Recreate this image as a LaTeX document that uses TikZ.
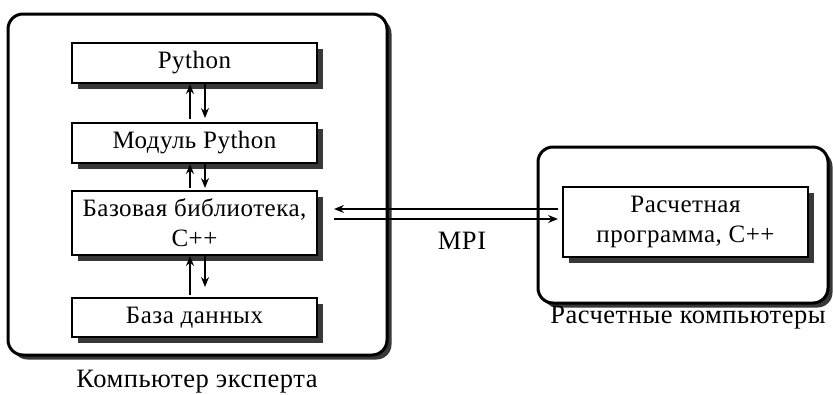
\documentclass[tikz,border=0pt]{standalone}
\usepackage{fontspec}
\setmainfont[LetterSpace=2]{Liberation Serif}
\usetikzlibrary{arrows.meta,shadows,calc}
\begin{document}
\begin{tikzpicture}[x=1pt,y=-1pt,
  shad/.style={drop shadow={shadow xshift=6pt,shadow yshift=-6pt,fill=black!78,opacity=1}},
  oshad/.style={drop shadow={shadow xshift=4.5pt,shadow yshift=-4.5pt,fill=black!78,opacity=1}},
  outer/.style={draw,line width=3pt,rounded corners=15pt,fill=white,oshad,inner sep=0pt},
  blk/.style={draw,line width=2pt,fill=white,shad,inner sep=0pt,align=center,
    font=\fontsize{25}{30}\selectfont},
  lbl/.style={font=\fontsize{26.5}{30}\selectfont,inner sep=0pt},
  arr/.style={line width=2.2pt,-{Stealth[length=10pt,width=8pt,inset=3.5pt]}}
]
\useasboundingbox (0,0) rectangle (833,394);
\node[outer,minimum width=379pt,minimum height=341pt] (left) at (197.5,184.5) {};
\node[outer,minimum width=290pt,minimum height=156pt] (right) at (683,225) {};

\node[blk,minimum width=245pt,minimum height=40pt] (py) at (194.5,63) {Python};
\node[blk,minimum width=245pt,minimum height=40pt] (mod) at (194.5,143) {Модуль Python};
\node[blk,minimum width=245pt,minimum height=64pt] (base) at (194.5,223) {Базовая библиотека,\\C++};
\node[blk,minimum width=245pt,minimum height=39pt] (db) at (194.5,317.5) {База данных};
\node[blk,minimum width=245pt,minimum height=70pt] (calc) at (685.5,222) {Расчетная\\программа, C++};

\node[lbl] (l1) at (197,382) {Компьютер эксперта};
\node[lbl] (l2) at (688,318) {Расчетные компьютеры};
\node[lbl] (mpi) at (462,241) {MPI};

\draw[arr,shorten <=3pt] ([xshift=-4.5pt]mod.north) -- ([xshift=-4.5pt]py.south);
\draw[arr,shorten >=4pt] ([xshift=10.5pt]py.south) -- ([xshift=10.5pt]mod.north);
\draw[arr,shorten <=2pt] ([xshift=-4.5pt]base.north) -- ([xshift=-4.5pt]mod.south);
\draw[arr,shorten >=2pt] ([xshift=10.5pt]mod.south) -- ([xshift=10.5pt]base.north);
\draw[arr,shorten <=2pt] ([xshift=-4.5pt]db.north) -- ([xshift=-4.5pt]base.south);
\draw[arr,shorten >=10pt] ([xshift=10.5pt]base.south) -- ([xshift=10.5pt]db.north);

\coordinate (ya) at (0,209);
\coordinate (yb) at (0,219);
\draw[arr] ($(calc.west |- ya)+(-4,0)$) -- ($(base.east |- ya)+(16,0)$);
\draw[arr] ($(base.east |- yb)+(16,0)$) -- ($(calc.west |- yb)+(-4,0)$);
\end{tikzpicture}
\end{document}
